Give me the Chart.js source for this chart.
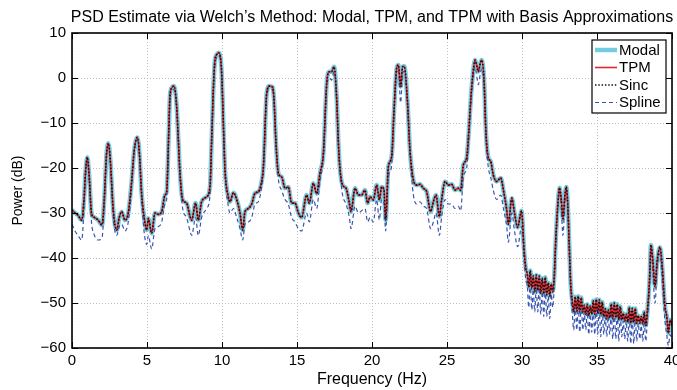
<!DOCTYPE html>
<html><head><meta charset="utf-8">
<script src="https://cdn.jsdelivr.net/npm/chart.js@4.4.0/dist/chart.umd.min.js"></script>
<style>html,body{margin:0;padding:0;background:#fff;}#wrap{width:677px;height:390px;}</style>
</head><body><div id="wrap"><canvas id="c" width="677" height="390"></canvas></div>
<script>
const chartTitle = "PSD Estimate via Welch\u2019s Method: Modal, TPM, and TPM with Basis Approximations";
const xAxisTitle = "Frequency (Hz)";
const yAxisTitle = "Power (dB)";
const seriesNames = ["Modal", "TPM", "Sinc", "Spline"];
const xTickValues = [0, 5, 10, 15, 20, 25, 30, 35, 40];
const yTickValues = [-60, -50, -40, -30, -20, -10, 0, 10];

const freqHz = [
0.0,0.2,0.4,0.65,0.8,0.9,1.02,1.15,1.3,1.5,1.75,2.0,2.15,2.3,2.42,2.55,2.75,2.98,3.15,3.31,
3.53,3.75,3.95,4.15,4.36,4.5,4.64,4.8,4.98,5.09,5.31,5.53,5.76,5.98,6.2,6.31,6.45,6.53,6.65,6.8,
6.98,7.09,7.2,7.38,7.64,7.87,7.98,8.24,8.42,8.64,8.98,9.2,9.31,9.42,9.53,9.65,9.76,9.87,9.98,10.09,
10.2,10.42,10.53,10.76,10.98,11.2,11.38,11.53,11.76,11.98,12.2,12.42,12.58,12.76,12.98,13.16,13.3,13.38,13.47,13.6,
13.76,13.98,14.2,14.42,14.64,14.87,15.09,15.31,15.64,15.82,16.09,16.31,16.53,16.76,16.98,17.16,17.31,17.47,17.64,17.76,
17.87,18.04,18.27,18.49,18.6,18.87,19.09,19.31,19.53,19.71,19.87,20.09,20.31,20.49,20.64,20.8,20.91,21.09,21.31,21.47,
21.64,21.76,21.91,22.04,22.15,22.36,22.53,22.76,22.98,23.2,23.42,23.64,23.91,24.09,24.27,24.49,24.64,24.87,25.09,25.31,
25.53,25.76,25.91,26.09,26.31,26.45,26.6,26.71,26.87,27.0,27.09,27.2,27.31,27.47,27.6,27.76,27.91,28.09,28.31,28.58,
28.76,28.98,29.09,29.32,29.5,29.71,29.97,30.13,30.26,
30.35,30.45,30.55,30.65,30.75,30.85,30.95,31.05,31.15,31.25,31.35,31.45,31.55,31.65,31.75,31.85,31.95,32.05,32.15,
32.25,32.37,32.5,32.62,32.73,32.85,32.95,33.05,33.15,33.25,
33.35,33.45,33.55,33.65,33.75,33.85,33.95,34.05,34.15,34.25,34.35,34.45,34.55,34.65,34.75,34.85,34.95,35.05,35.15,35.25,
35.35,35.45,35.55,35.65,35.75,35.85,35.95,36.05,36.15,36.25,36.35,36.45,36.55,36.65,36.75,36.85,36.95,37.05,37.15,37.25,
37.35,37.45,37.55,37.65,37.75,37.85,37.95,38.05,38.15,38.25,38.35,
38.5,38.6,38.72,38.87,39.0,39.2,39.35,39.53,39.65,39.76,39.87,40.0
];

const modalDb = [
-29.3,-30,-30.5,-31.6,-27,-21,-17.6,-22,-30,-31,-31.6,-32.7,-27,-17,-14.5,-18,-29.3,-33.8,-31,-29.7,
-31.6,-30,-24,-16,-13.2,-17,-25.6,-30.8,-33.8,-31.2,-34.5,-30,-30.3,-29.7,-26,-25.3,-12,-4,-2.2,-1.8,
-6.4,-13.8,-21.2,-27.1,-27.8,-30.8,-31.6,-27.8,-31.6,-27.5,-26.4,-24.1,-13.8,-2.7,4,5.2,5.6,5.1,1,-10,
-20.4,-26.4,-27.5,-25.5,-27,-30,-33.8,-29.7,-29,-28,-25.6,-25.3,-24,-19.7,-3.4,-1.8,-1.9,-2.1,-4.9,-14.5,
-21.2,-22,-24.5,-24.2,-27.8,-27.8,-30,-31,-26,-27.8,-23.4,-25.7,-21.2,-16.7,-1.2,1.4,1.4,2.5,-4.1,-14.5,
-20.4,-23.8,-24.5,-27.8,-29.7,-24.5,-26,-26,-24.9,-27.8,-26.4,-27.1,-23.8,-27.1,-24.2,-24.9,-31.6,-19.7,-17.5,-7.1,
2.1,2.9,-1.9,2.5,2.6,-4.9,-16,-22.7,-23.8,-23.6,-24.5,-25.2,-29.7,-27.5,-26,-30.8,-27.1,-23,-23.8,-23.6,
-24.9,-24.5,-25,-19.3,-17.8,-12,-4,0.3,4,2.5,1.4,3,4,-0.4,-12.3,-17.8,-18.5,-21.6,-23,-22.2,
-24.9,-29.3,-32.5,-26.7,-30,-33.2,-29.5,-37.8,-42.5,
-43.5,-46.5,-42.8,-46.8,-44,-47.5,-43.8,-47.2,-44,-47.8,-44.5,-48,-44.3,-48.2,-45.5,-48.5,-45.8,-47.5,-44,
-36,-29,-24.4,-27,-31.3,-26.5,-24.2,-28,-37,-46,
-49.5,-52,-48.6,-51.8,-48.5,-52,-48.8,-52,-50.5,-52.5,-50.3,-52.8,-50.7,-52.5,-49.5,-52.5,-49.2,-52.3,-49.3,-52.6,
-49.8,-53,-51.3,-53.5,-51.5,-53.3,-50.2,-53.5,-50,-53.3,-50.3,-53.7,-50.8,-53.8,-52.3,-54,-52.5,-54.2,-51,-54.5,
-51.2,-54.3,-51.2,-54.5,-52.8,-54.5,-53,-54.6,-52,-55,-52.2,
-45,-37.1,-40.5,-46.4,-41,-37.6,-42,-50.8,-53,-56.7,-53.8,-55
];

const tpmDb = modalDb.slice();
const sincDb = modalDb.slice();

const splineDb = [
-32.5,-34,-35,-36,-29,-22,-18,-23,-32,-35,-36,-35.5,-28.5,-17.5,-15,-19,-31,-35,-33,-32.5,
-34,-32,-25.5,-16.5,-13.8,-17.5,-27,-34,-37,-35,-38,-33.5,-33,-32,-28,-27,-13,-5,-3,-2.5,
-7,-14.5,-22,-29,-31,-34,-35,-31,-35,-31,-29,-26,-15,-3.5,3,4.5,5,4.5,0.5,-10.5,
-21,-28.5,-30,-29,-31,-33.5,-36,-32.5,-32,-31,-28,-27.5,-25.5,-20.5,-4,-2.5,-2.5,-2.8,-5.5,-15,
-22.5,-25,-27,-28,-31,-32,-33.5,-34,-30,-32,-27,-29,-23,-17.5,-2,0,-0.5,1.5,-5,-15,
-21,-26,-28,-31,-33.5,-28.5,-30,-29.5,-29,-32,-31,-32,-27,-31.5,-27,-28,-34,-22,-19.5,-8,
1,1.5,-5.5,1,1.5,-6,-17,-26,-28,-27.5,-28.5,-29,-33.5,-32,-30,-35,-31,-27,-28,-28,
-29,-28.5,-29.5,-22,-20,-14,-5.5,-1,2.5,0,-1.5,0.5,2,-2,-13.5,-20,-22,-25,-27,-26,
-29,-33,-36.5,-30,-34,-37.5,-33,-40,-45,
-46,-51,-45,-51.5,-47,-52,-46.5,-52,-46.5,-52.5,-47.5,-53,-47,-53,-48.5,-53.5,-48,-51,-46,
-37.5,-30,-25.5,-29,-35,-28,-25.5,-30,-39,-48,
-52,-56,-50,-56,-50,-56.5,-50,-56,-52,-56,-52,-57,-52.5,-56.5,-51,-57,-50.5,-57,-51,-57.5,
-51.5,-57,-53,-57.5,-53,-57,-52,-58,-51.5,-58,-52,-58.5,-52.5,-57.5,-54,-58,-54,-58.5,-53,-59,
-53,-59,-53,-58.5,-54.5,-58,-55,-58.5,-54,-58.5,-54,
-47,-38.5,-43,-50,-43,-39,-45,-54,-57,-59.5,-57,-58
];

const toPts = arr => freqHz.map((f, i) => ({x: f, y: arr[i]}));
const FONT = '"Liberation Sans", Arial, Helvetica, sans-serif';
Chart.defaults.font.family = FONT;
Chart.defaults.color = '#000';

const styles = [
  {color: '#72cde0', width: 4.5, dash: [], order: 4},
  {color: '#e8252b', width: 1.6, dash: [], order: 2},
  {color: '#111111', width: 1.6, dash: [1.5, 1.8], order: 1},
  {color: '#3a55b0', width: 1.2, dash: [4, 3], order: 3}
];
const seriesData = [modalDb, tpmDb, sincDb, splineDb];

const datasets = seriesNames.map((name, i) => ({
  label: name,
  data: toPts(seriesData[i]),
  borderColor: styles[i].color,
  borderWidth: styles[i].width,
  borderDash: styles[i].dash,
  order: styles[i].order,
  pointRadius: 0,
  fill: false,
  cubicInterpolationMode: 'monotone',
  borderJoinStyle: 'round'
}));

const overlay = {
  id: 'overlay',
  afterDraw(chart) {
    const {ctx, chartArea: a, scales: {x, y}} = chart;
    ctx.save();
    ctx.strokeStyle = '#000';
    ctx.lineWidth = 1;
    const seg = (x1, y1, x2, y2) => { ctx.beginPath(); ctx.moveTo(x1, y1); ctx.lineTo(x2, y2); ctx.stroke(); };
    xTickValues.forEach(v => { const p = Math.round(x.getPixelForValue(v)) + 0.5; seg(p, a.bottom, p, a.bottom - 6); seg(p, a.top, p, a.top + 6); });
    yTickValues.forEach(v => { const p = Math.round(y.getPixelForValue(v)) + 0.5; seg(a.left, p, a.left + 6, p); seg(a.right, p, a.right - 6, p); });
    ctx.lineWidth = 1.6;
    ctx.strokeRect(a.left, a.top, a.right - a.left, a.bottom - a.top);
    // title
    ctx.fillStyle = '#000';
    ctx.font = '16px ' + FONT;
    ctx.textAlign = 'center';
    ctx.textBaseline = 'middle';
    ctx.fillText(chartTitle, (a.left + a.right) / 2, 18);
    // legend
    const bx = a.right - 80, by = a.top + 7, bw = 74, bh = 73;
    ctx.fillStyle = '#fff';
    ctx.fillRect(bx, by, bw, bh);
    ctx.lineWidth = 1.2;
    ctx.strokeStyle = '#000';
    ctx.strokeRect(bx, by, bw, bh);
    ctx.font = '15px ' + FONT;
    ctx.textAlign = 'left';
    seriesNames.forEach((name, i) => {
      const ly = by + 10 + i * 17.5;
      ctx.save();
      ctx.strokeStyle = styles[i].color;
      ctx.lineWidth = styles[i].width;
      ctx.setLineDash(styles[i].dash);
      seg(bx + 3, ly, bx + 25, ly);
      ctx.restore();
      ctx.fillStyle = '#000';
      ctx.fillText(name, bx + 27, ly + 0.5);
    });
    ctx.restore();
  }
};

const minus = v => String(v).replace('-', '\u2212');

new Chart(document.getElementById('c'), {
  type: 'line',
  data: {datasets},
  options: {
    responsive: false,
    animation: false,
    devicePixelRatio: 1,
    layout: {padding: {top: 33, right: 5, left: 0, bottom: 0}},
    plugins: {legend: {display: false}, title: {display: false}, tooltip: {enabled: false}},
    scales: {
      x: {
        type: 'linear', min: 0, max: 40,
        afterBuildTicks: s => { s.ticks = xTickValues.map(v => ({value: v})); },
        afterFit: s => { s.height = 42; s.paddingLeft = 0; s.paddingRight = 0; },
        grid: {color: '#bdbdbd', lineWidth: 1, drawTicks: false, borderDash: [1, 2]},
        border: {display: false, dash: [1, 2]},
        ticks: {font: {size: 15}, padding: 4, maxRotation: 0, callback: v => minus(v)},
        title: {display: true, text: xAxisTitle, font: {size: 16}, padding: {top: 0, bottom: 1}}
      },
      y: {
        type: 'linear', min: -60, max: 10,
        afterBuildTicks: s => { s.ticks = yTickValues.map(v => ({value: v})); },
        afterFit: s => { s.width = 72; s.paddingTop = 0; s.paddingBottom = 0; },
        grid: {color: '#bdbdbd', lineWidth: 1, drawTicks: false, borderDash: [1, 2]},
        border: {display: false, dash: [1, 2]},
        ticks: {font: {size: 15}, padding: 6, callback: v => minus(v)},
        title: {display: true, text: yAxisTitle, font: {size: 14}, padding: {top: 10, bottom: 0}}
      }
    }
  },
  plugins: [overlay]
});
</script></body></html>
